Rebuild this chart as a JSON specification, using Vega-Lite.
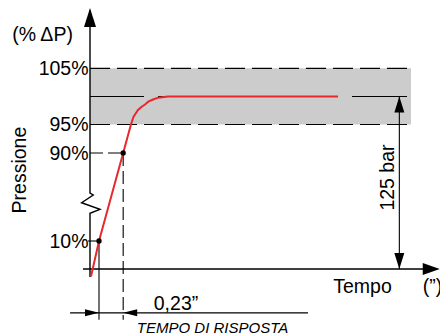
{
  "$schema": "https://vega.github.io/schema/vega-lite/v6.json",
  "autosize": "none",
  "padding": {"left": 90, "top": 0, "right": 0, "bottom": 0},
  "width": 350,
  "height": 336,
  "background": "white",
  "config": {"view": {"stroke": null}, "font": "Liberation Sans", "text": {"font": "Liberation Sans"}},
  "datasets": {
    "band": [{"t": 0, "t2": 3.057, "v": 95, "v2": 105}],
    "edges": [
      {"t": 0, "t2": 3.057, "v": 105, "v2": 105},
      {"t": 0, "t2": 3.057, "v": 95, "v2": 95}
    ],
    "thin": [
      {"t": 0, "t2": 0.514, "v": 100, "v2": 100},
      {"t": 0.648, "t2": 2.362, "v": 100, "v2": 100},
      {"t": 2.495, "t2": 3.019, "v": 100, "v2": 100},
      {"t": -0.019, "t2": 0.0857, "v": 10, "v2": 10},
      {"t": 0.0857, "t2": 0.0857, "v": 10, "v2": -18.2},
      {"t": -0.19, "t2": 2.076, "v": -15.7, "v2": -15.7},
      {"t": 2.946, "t2": 2.946, "v": 0, "v2": 100}
    ],
    "dashedThin": [
      {"t": 0, "t2": 0.316, "v": 90, "v2": 90},
      {"t": 0.316, "t2": 0.316, "v": 90, "v2": -18.2}
    ],
    "xaxis": [{"t": -0.067, "t2": 3.2, "v": 0, "v2": 0}],
    "yaxis": [
      {"o": 1, "t": 0, "v": 115.3},
      {"o": 2, "t": 0, "v": 53.6},
      {"o": 3, "t": 0.031, "v": 51.8},
      {"o": 4, "t": -0.08, "v": 44.8},
      {"o": 5, "t": 0.095, "v": 38.8},
      {"o": 6, "t": 0, "v": 35.2},
      {"o": 7, "t": 0, "v": -2.86}
    ],
    "response": [
      {"o": 1, "t": 0.0095, "v": -2.68},
      {"o": 2, "t": 0.0857, "v": 10},
      {"o": 3, "t": 0.316, "v": 90},
      {"o": 4, "t": 0.39, "v": 95},
      {"o": 5, "t": 0.414, "v": 96.34},
      {"o": 6, "t": 0.429, "v": 96.79},
      {"o": 7, "t": 0.457, "v": 97.59},
      {"o": 8, "t": 0.492, "v": 98.18},
      {"o": 9, "t": 0.524, "v": 98.57},
      {"o": 10, "t": 0.555, "v": 99.07},
      {"o": 11, "t": 0.6, "v": 99.46},
      {"o": 12, "t": 0.65, "v": 99.79},
      {"o": 13, "t": 0.743, "v": 100},
      {"o": 14, "t": 2.362, "v": 100}
    ],
    "dots": [{"t": 0.0857, "v": 10}, {"t": 0.316, "v": 90}],
    "arrows": [
      {"t": 0, "v": 115.68, "dir": "axis-up"},
      {"t": 3.331, "v": 0, "dir": "axis-right"},
      {"t": 2.946, "v": 100, "dir": "dim-up"},
      {"t": 2.946, "v": 0, "dir": "dim-down"},
      {"t": 0.0857, "v": -15.7, "dir": "dim-right"},
      {"t": 0.316, "v": -15.7, "dir": "dim-left"}
    ],
    "labels": [
      {"t": -0.452, "v": 109.75, "label": "(% ΔP)"},
      {"t": 2.595, "v": -8.57, "label": "Tempo"},
      {"t": 3.262, "v": -8.57, "label": "(”)"},
      {"t": 0.819, "v": -14.6, "label": "0,23”"}
    ],
    "italic": [{"t": 1.167, "v": -23.0, "label": "TEMPO DI RISPOSTA"}],
    "rotated": [
      {"t": -0.614, "v": 74.5, "label": "Pressione"},
      {"t": 2.895, "v": 67.7, "label": "125 bar"}
    ]
  },
  "encoding": {
    "x": {"field": "t", "type": "quantitative", "scale": {"domain": [0, 3.3333], "nice": false, "zero": false}, "axis": null},
    "y": {
      "field": "v", "type": "quantitative",
      "scale": {"domain": [-24, 0, 10, 90, 95, 100, 105, 117.1], "range": [336, 269, 241, 153, 124.5, 96.5, 68.3, 0], "nice": false, "zero": false},
      "axis": {"values": [10, 90, 95, 105], "labelExpr": "datum.value + '%'", "domain": false, "ticks": false, "tickSize": 0, "grid": false, "title": null, "labelFontSize": 19.5, "labelFont": "Liberation Sans", "labelColor": "black", "labelPadding": 2}
    }
  },
  "layer": [
    {"data": {"name": "band"}, "mark": {"type": "rect", "color": "#cccccc"}, "encoding": {"x2": {"field": "t2"}, "y2": {"field": "v2"}}},
    {"data": {"name": "edges"}, "mark": {"type": "rule", "color": "black", "strokeWidth": 1.2, "strokeDash": [20, 7]}, "encoding": {"x2": {"field": "t2"}, "y2": {"field": "v2"}}},
    {"data": {"name": "thin"}, "mark": {"type": "rule", "color": "black", "strokeWidth": 1.1}, "encoding": {"x2": {"field": "t2"}, "y2": {"field": "v2"}}},
    {"data": {"name": "dashedThin"}, "mark": {"type": "rule", "color": "black", "strokeWidth": 1.1, "strokeDash": [13, 5]}, "encoding": {"x2": {"field": "t2"}, "y2": {"field": "v2"}}},
    {"data": {"name": "xaxis"}, "mark": {"type": "rule", "color": "black", "strokeWidth": 1.5}, "encoding": {"x2": {"field": "t2"}, "y2": {"field": "v2"}}},
    {"data": {"name": "yaxis"}, "mark": {"type": "line", "color": "black", "strokeWidth": 1.4}, "encoding": {"order": {"field": "o"}}},
    {"data": {"name": "response"}, "mark": {"type": "line", "color": "#e8282d", "strokeWidth": 2}, "encoding": {"order": {"field": "o"}}},
    {"data": {"name": "dots"}, "mark": {"type": "point", "shape": "circle", "filled": true, "color": "black", "opacity": 1, "size": 28}, "encoding": {}},
    {"data": {"name": "arrows"}, "mark": {"type": "point", "filled": true, "color": "black", "opacity": 1, "size": 4, "strokeWidth": 0},
      "encoding": {"shape": {"field": "dir", "type": "nominal", "legend": null,
        "scale": {"domain": ["axis-up", "axis-right", "dim-up", "dim-down", "dim-right", "dim-left"],
                  "range": ["M0,0L6,19L-6,19Z", "M0,0L-17,-6L-17,6Z", "M0,0L5,16L-5,16Z", "M0,0L5,-16L-5,-16Z", "M0,0L-14,-3.5L-14,3.5Z", "M0,0L14,-3.5L14,3.5Z"]}}}},
    {"data": {"name": "labels"}, "mark": {"type": "text", "fontSize": 19.5, "align": "center", "baseline": "alphabetic", "color": "black"}, "encoding": {"text": {"field": "label"}}},
    {"data": {"name": "italic"}, "mark": {"type": "text", "fontSize": 15, "fontStyle": "italic", "align": "center", "baseline": "alphabetic", "color": "black"}, "encoding": {"text": {"field": "label"}}},
    {"data": {"name": "rotated"}, "mark": {"type": "text", "fontSize": 19.5, "angle": 270, "align": "center", "baseline": "alphabetic", "color": "black"}, "encoding": {"text": {"field": "label"}}}
  ]
}
